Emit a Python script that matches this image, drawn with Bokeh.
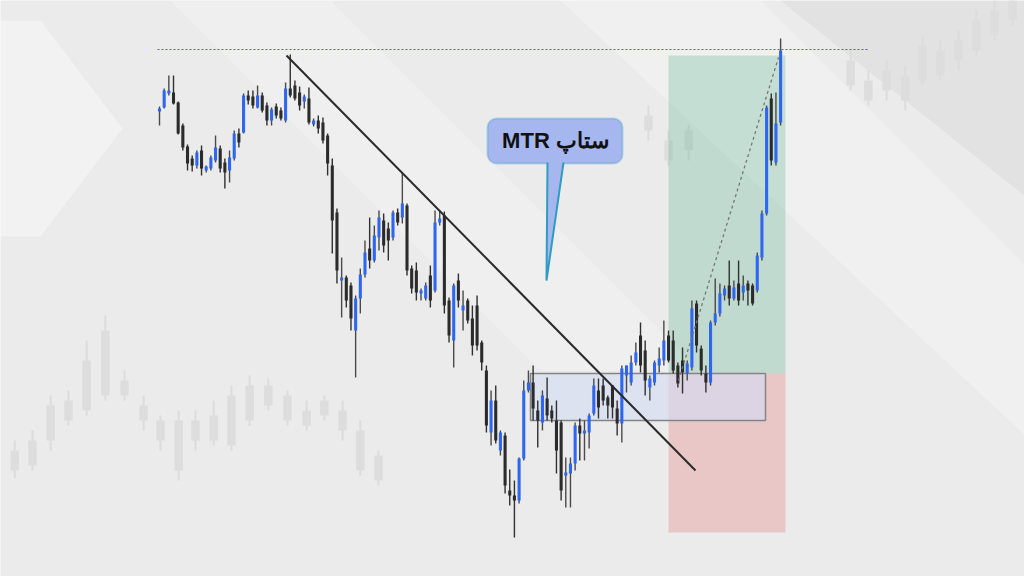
from bokeh.plotting import figure
from bokeh.models import Range1d, BoxAnnotation, Label, ColumnDataSource
from bokeh.embed import file_html
from bokeh.resources import INLINE

# ---- main price series (OHLC) ----
opens = [465,469,483,484,474,451,430,418,411,426,406,408,416,428,414,406,418,443,444,481,
         480,469,481,471,456,470,466,456,488,491,484,475,478,452,456,454,441,411,364,296,
         299,291,246,278,302,328,316,339,356,348,339,364,359,371,308,306,283,278,301,286,
         354,361,276,236,296,266,276,258,271,234,206,144,176,126,141,86,81,76,118,186,
         194,166,154,178,166,156,154,101,103,113,151,143,144,163,186,191,179,191,168,153,
         201,194,214,241,226,189,194,211,216,241,236,211,216,203,209,273,228,203,194,254,
         263,281,291,278,293,284,293,291,286,319,363,478,414,454]
highs = [470,488,501,501,475,453,432,421,426,431,411,421,441,431,418,426,446,448,483,486,
         486,491,484,474,469,473,469,494,522,496,490,482,489,458,461,459,443,418,368,319,
         301,294,281,308,336,359,351,366,363,354,366,368,404,373,311,314,288,294,311,366,
         366,365,279,293,303,286,278,271,281,236,211,186,191,146,144,107,96,119,196,206,
         211,176,186,199,171,176,156,119,119,154,158,156,163,198,198,198,181,191,176,211,
         211,221,234,254,236,201,216,229,256,246,246,214,229,216,276,276,231,211,256,298,
         293,291,316,296,316,301,296,293,324,366,471,483,484,538]
lows = [451,468,481,472,442,426,406,405,408,401,404,406,414,404,388,394,416,429,443,472,
        468,468,464,451,451,458,456,454,479,476,466,468,452,450,443,433,401,323,293,259,
        269,246,199,263,299,308,314,326,324,316,336,351,353,301,283,276,276,276,269,284,
        351,263,234,209,269,246,253,221,226,206,144,131,133,121,83,71,39,73,116,184,
        156,129,146,156,154,103,76,69,69,106,116,116,128,161,158,171,158,158,141,134,
        184,191,211,204,181,176,191,204,211,214,203,189,183,196,206,224,201,184,191,251,
        260,276,271,276,271,276,271,271,284,316,361,411,411,451]
closes = [468,486,486,473,443,429,413,411,424,408,410,419,429,408,404,419,443,434,481,476,
          471,481,466,456,467,461,458,488,481,478,471,480,454,456,448,436,413,356,306,299,
          276,258,278,302,324,316,341,359,331,336,364,354,373,306,288,284,286,291,276,354,
          358,271,241,291,276,271,256,231,231,214,151,176,136,144,91,81,76,118,186,194,
          168,156,181,161,158,126,86,104,113,151,143,146,161,191,169,176,171,169,153,208,
          211,214,224,211,196,198,214,218,236,216,206,193,204,213,268,231,206,194,254,263,
          283,288,278,289,276,291,286,273,321,363,469,416,453,526]
candle_index = list(range(len(opens)))

# ---- faded background candles ----
ghost_x = [-31.0,-27.2,-23.3,-19.5,-15.6,-11.6,-7.5,-3.4,0.2,4.1,7.7,11.6,15.4,19.3,23.3,27.4,31.5,35.3,39.2,43.0,46.9,
           104.7,109.0,113.3,148.0,151.8,155.7,159.7,163.4,167.2,171.1,174.9,178.8,182.7]
ghost_open = [106,111,136,156,166,181,196,171,156,156,136,136,131,156,171,181,166,176,166,146,121,
              461,416,426,491,476,486,501,496,526,516,526,541,556]
ghost_close = [126,136,171,176,216,246,181,156,136,106,156,161,181,191,191,156,151,161,146,106,96,
               446,436,446,516,496,506,476,531,501,536,556,566,576]
ghost_high = [136,146,181,186,236,261,206,181,161,166,166,176,191,201,198,186,176,181,176,156,126,
              471,446,451,526,506,516,511,541,536,546,566,576,586]
ghost_low = [98,106,126,151,161,176,176,146,126,96,126,131,126,151,166,151,146,156,136,101,91,
             436,411,416,486,471,476,466,491,496,506,521,536,551]

TEXT_LABEL = "MTR ستاپ"

# ---- pixel helpers for layout of annotations ----
STEP = 4.67
def X(px):
    return (px - 159) / STEP
def Y(py):
    return 576 - py

BG = "#ebebeb"
p = figure(width=1024, height=576, x_range=Range1d(X(0), X(1024)), y_range=Range1d(Y(576), Y(0)),
           output_backend="svg", toolbar_location=None, min_border=0,
           x_axis_type=None, y_axis_type=None,
           background_fill_color=BG, border_fill_color=BG, outline_line_color=None)

# background decorative light shapes
def poly(pts, color, alpha):
    p.patch([X(a) for a, b in pts], [Y(b) for a, b in pts], fill_color=color, fill_alpha=alpha, line_color=None)

poly([(-10, 20), (40, 20), (122, 128), (40, 236), (-10, 236)], "#ffffff", 0.38)
poly([(170, 0), (330, 0), (700, 370), (540, 370)], "#ffffff", 0.22)
poly([(560, 0), (760, 0), (1030, 270), (1030, 440)], "#ffffff", 0.25)
poly([(780, 0), (1030, 0), (1030, 200)], "#dcdcdc", 0.6)

# ghost candles
g_top = [max(o, c) for o, c in zip(ghost_open, ghost_close)]
g_bot = [min(o, c) for o, c in zip(ghost_open, ghost_close)]
gsrc = ColumnDataSource(dict(x=ghost_x, h=ghost_high, l=ghost_low, t=g_top, b=g_bot))
p.segment(x0="x", y0="l", x1="x", y1="h", source=gsrc, line_color="#dcdcdc", line_width=2)
p.vbar(x="x", width=1.8, top="t", bottom="b", source=gsrc, fill_color="#dddddd", line_color=None)

# position boxes
p.quad(left=X(668), right=X(785), bottom=Y(373), top=Y(55), fill_color="#4caf8a", fill_alpha=0.27, line_color=None)
p.quad(left=X(668), right=X(785), bottom=Y(532), top=Y(373), fill_color="#e57373", fill_alpha=0.30, line_color=None)
# consolidation box
p.quad(left=X(530), right=X(765), bottom=Y(420), top=Y(373), fill_color="#d3dcf5", fill_alpha=0.6,
       line_color="#858585", line_width=1.5)

# dotted high line
p.line([X(157), X(868)], [Y(49), Y(49)], line_color="#5a5ad8", line_width=1, line_dash="2 2")

# candles
inc = [c > o for o, c in zip(opens, closes)]
tops, bots = [], []
for o, c in zip(opens, closes):
    t, b = max(o, c), min(o, c)
    if t - b < 2:
        m = (t + b) / 2
        t, b = m + 1, m - 1
    tops.append(t)
    bots.append(b)
src = ColumnDataSource(dict(x=candle_index, h=highs, l=lows, t=tops, b=bots,
                            body=["#2f66ef" if i else "#2b2b2b" for i in inc],
                            wick=["#4a4a4a" if i else "#303030" for i in inc]))
p.segment(x0="x", y0="l", x1="x", y1="h", source=src, line_color="wick", line_width=1.4)
p.vbar(x="x", width=0.66, top="t", bottom="b", source=src, fill_color="body", line_color=None)

# trendline
p.line([X(286), X(695)], [Y(55), Y(470)], line_color="#2a2a2a", line_width=2)
# dashed projection
p.line([X(678), X(778)], [Y(380), Y(57)], line_color="#777777", line_width=1.3, line_dash="3 3")

# callout
FILL = "#a6b6ee"
EDGE = "#2f9cc2"
box = BoxAnnotation(left=X(487), right=X(622), bottom=Y(163), top=Y(118), fill_color=FILL, fill_alpha=1,
                    line_color=EDGE, line_width=2, border_radius=9)
p.add_layout(box)
p.patch([X(547), X(563), X(546)], [Y(161), Y(161), Y(280)], fill_color=FILL, line_color=None, level="overlay")
p.line([X(547), X(546), X(563)], [Y(162), Y(280), Y(162)], line_color=EDGE, line_width=2, level="overlay")
p.add_layout(Label(x=X(555), y=Y(140), text=TEXT_LABEL, text_align="center", text_baseline="middle",
                   text_font="Liberation Sans", text_font_size="22px", text_font_style="bold", text_color="#111111"))

html = file_html(p, INLINE, title="MTR setup")
open("out.html", "w").write(html)
